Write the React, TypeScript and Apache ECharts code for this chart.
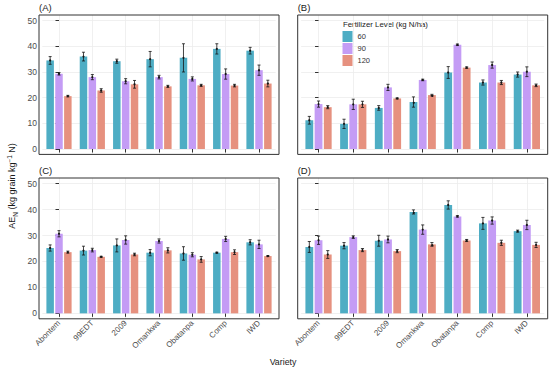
import React, { useEffect, useRef } from 'react';
import * as echarts from 'echarts';

const varieties = ['Abontem', '99EDT', '2009', 'Omankwa', 'Obatanpa', 'Comp', 'IWD'];
const levels = ['60', '90', '120'];
const yTicks = [0, 10, 20, 30, 40, 50];
const panelLabels = ['(A)', '(B)', '(C)', '(D)'];

// Panel A
const A60 = [34.5, 36.0, 34.2, 35.0, 35.5, 39.0, 38.3];
const A60err = [1.5, 1.7, 0.8, 3.0, 5.5, 2.0, 1.3];
const A90 = [29.3, 28.0, 26.4, 28.0, 27.3, 29.2, 30.7];
const A90err = [0.5, 1.0, 1.0, 0.7, 0.8, 2.0, 2.0];
const A120 = [20.6, 22.8, 25.2, 24.4, 24.8, 24.7, 25.5];
const A120err = [0.3, 0.7, 1.5, 0.4, 0.4, 0.5, 1.3];
// Panel B
const B60 = [11.2, 9.8, 16.0, 18.3, 29.8, 25.9, 29.0];
const B60err = [1.5, 1.8, 0.9, 2.0, 2.3, 1.0, 1.0];
const B90 = [17.5, 17.4, 24.0, 26.9, 40.6, 32.7, 30.1];
const B90err = [1.2, 2.0, 1.2, 0.3, 0.3, 1.2, 1.9];
const B120 = [16.3, 17.4, 19.7, 21.0, 31.7, 25.9, 24.8];
const B120err = [0.6, 1.2, 0.2, 0.3, 0.3, 0.8, 0.5];
// Panel C
const C60 = [25.2, 24.2, 26.2, 23.4, 23.1, 23.4, 27.4];
const C60err = [1.2, 1.7, 2.5, 1.2, 2.6, 0.2, 1.0];
const C90 = [30.7, 24.4, 28.3, 27.9, 22.6, 28.7, 26.6];
const C90err = [1.2, 0.7, 1.6, 0.8, 0.8, 1.0, 1.6];
const C120 = [23.6, 21.8, 22.7, 24.3, 20.8, 23.6, 22.1];
const C120err = [0.4, 0.2, 0.5, 1.0, 1.1, 0.9, 0.2];
// Panel D
const D60 = [25.6, 26.1, 28.0, 39.1, 41.8, 34.7, 31.7];
const D60err = [2.1, 1.2, 2.1, 0.8, 1.6, 2.3, 0.4];
const D90 = [28.2, 29.4, 28.5, 32.3, 37.4, 35.8, 34.1];
const D90err = [1.6, 0.5, 1.3, 1.8, 0.3, 1.4, 1.8];
const D120 = [22.7, 24.4, 24.0, 26.6, 28.1, 27.2, 26.4];
const D120err = [1.5, 0.6, 0.6, 0.7, 0.4, 1.0, 1.0];

const panelMeans = [
  [A60, A90, A120],
  [B60, B90, B120],
  [C60, C90, C120],
  [D60, D90, D120],
];
const panelErrs = [
  [A60err, A90err, A120err],
  [B60err, B90err, B120err],
  [C60err, C90err, C120err],
  [D60err, D90err, D120err],
];

const COLORS = ['#4EADC4', '#C49CF5', '#E6917F'];
const FONT = 'Liberation Sans, Arial, Helvetica, sans-serif';
const SPACING = 0.2655;

// panel boxes [x0, x1, y0, y1]
const boxes = [
  [39, 279, 15, 154.4],
  [297.7, 547.7, 15, 154.4],
  [39, 279, 178, 318.8],
  [297.7, 547.7, 178, 318.8],
];

export default function App() {
  const ref = useRef<HTMLDivElement>(null);
  useEffect(() => {
    if (!ref.current) return;
    const chart = echarts.init(ref.current, undefined, { renderer: 'svg' });
    const grids: any[] = [];
    const xAxes: any[] = [];
    const yAxes: any[] = [];
    const series: any[] = [];
    const graphics: any[] = [];

    boxes.forEach((b, p) => {
      const [x0, x1, y0, y1] = b;
      const inset = ((x1 - x0) / 7.2) * 0.1;
      grids.push({ left: x0 + inset, top: y0, width: x1 - x0 - 2 * inset, height: y1 - y0 });
      const bottomRow = p >= 2;
      const leftCol = p % 2 === 0;
      xAxes.push({
        type: 'category',
        gridIndex: p,
        data: varieties,
        position: 'bottom',
        axisLine: { show: false },
        axisTick: { show: true, alignWithLabel: true, length: 3.5, lineStyle: { color: '#333', width: 1 } },
        axisLabel: { show: bottomRow, rotate: 45, fontSize: 8, color: '#4d4d4d', margin: 3, fontFamily: FONT },
        splitLine: { show: false },
      });
      xAxes.push({
        type: 'value',
        gridIndex: p,
        position: 'top',
        min: -0.5,
        max: 6.5,
        axisLine: { show: false },
        axisTick: { show: false, customValues: [0, 1, 2, 3, 4, 5, 6] },
        axisLabel: { show: false, customValues: [0, 1, 2, 3, 4, 5, 6] },
        splitLine: { show: true, lineStyle: { color: '#ececec', width: 0.8 } },
      });
      yAxes.push({
        type: 'value',
        gridIndex: p,
        min: -2.1,
        max: 52.2,
        offset: inset,
        axisLine: { show: false },
        axisTick: { show: true, length: 3.5, lineStyle: { color: '#333', width: 1 }, customValues: yTicks },
        axisLabel: { show: leftCol, fontSize: 8.5, color: '#4d4d4d', margin: 2, customValues: yTicks, fontFamily: FONT },
        splitLine: { show: true, lineStyle: { color: '#ececec', width: 0.8 } },
      });
      levels.forEach((lv, k) => {
        series.push({
          type: 'bar',
          name: lv,
          xAxisIndex: 2 * p,
          yAxisIndex: p,
          data: panelMeans[p][k],
          barWidth: '22.5%',
          barGap: '18%',
          itemStyle: { color: COLORS[k] },
          z: 2,
        });
      });
      const errData: number[][] = [];
      levels.forEach((lv, k) => {
        panelMeans[p][k].forEach((m, i) => errData.push([i, k, m, panelErrs[p][k][i]]));
      });
      series.push({
        type: 'custom',
        xAxisIndex: 2 * p,
        yAxisIndex: p,
        data: errData,
        encode: { x: 0, y: 2 },
        z: 10,
        silent: true,
        renderItem: (params: any, api: any) => {
          const i = api.value(0);
          const k = api.value(1);
          const m = api.value(2);
          const e = api.value(3);
          const band = api.size([1, 0])[0];
          const c = api.coord([i, m]);
          const x = c[0] + (k - 1) * band * SPACING;
          const yt = api.coord([i, m + e])[1];
          const yb = api.coord([i, m - e])[1];
          const cw = band * 0.045;
          const st = { stroke: '#151515', lineWidth: 0.8 };
          return {
            type: 'group',
            children: [
              { type: 'line', shape: { x1: x, y1: yt, x2: x, y2: yb }, style: st },
              { type: 'line', shape: { x1: x - cw, y1: yt, x2: x + cw, y2: yt }, style: st },
              { type: 'line', shape: { x1: x - cw, y1: yb, x2: x + cw, y2: yb }, style: st },
              { type: 'circle', shape: { cx: x, cy: c[1], r: 1.1 }, style: { fill: '#151515' } },
            ],
          };
        },
      });
      graphics.push({
        type: 'rect',
        shape: { x: x0, y: y0, width: x1 - x0, height: y1 - y0 },
        style: { fill: 'none', stroke: '#333', lineWidth: 1 },
        z: 20,
        silent: true,
      });
      graphics.push({
        type: 'text',
        x: x0,
        y: y0 - 8,
        style: { text: panelLabels[p], fontSize: 9.5, fontFamily: FONT, fill: '#1a1a1a', textAlign: 'left', textVerticalAlign: 'middle' },
      });
    });

    graphics.push({
      type: 'text',
      x: 343,
      y: 24.5,
      style: { text: 'Fertilizer Level (kg N/ha)', fontSize: 7.8, fontFamily: FONT, fill: '#1a1a1a', textAlign: 'left', textVerticalAlign: 'middle' },
    });
    graphics.push({
      type: 'text',
      x: 283,
      y: 362,
      style: { text: 'Variety', fontSize: 8.8, fontFamily: FONT, fill: '#1a1a1a', textAlign: 'center', textVerticalAlign: 'middle' },
    });
    graphics.push({
      type: 'text',
      x: 12,
      y: 186,
      rotation: Math.PI / 2,
      style: {
        text: '{a|AE}{s|N}{a| (kg grain kg}{p|−1}{a| N)}',
        textAlign: 'center',
        textVerticalAlign: 'middle',
        fontFamily: FONT,
        fill: '#1a1a1a',
        rich: {
          a: { fontSize: 9, fontFamily: FONT, fill: '#1a1a1a', lineHeight: 13, verticalAlign: 'middle' },
          s: { fontSize: 6.5, fontFamily: FONT, fill: '#1a1a1a', lineHeight: 7, verticalAlign: 'bottom' },
          p: { fontSize: 6.5, fontFamily: FONT, fill: '#1a1a1a', lineHeight: 7, verticalAlign: 'top' },
        },
      },
    });

    chart.setOption({
      animation: false,
      backgroundColor: '#ffffff',
      textStyle: { fontFamily: FONT },
      grid: grids,
      xAxis: xAxes,
      yAxis: yAxes,
      legend: {
        data: levels,
        orient: 'vertical',
        left: 342.5,
        top: 31,
        itemWidth: 10,
        itemHeight: 11,
        itemGap: 1,
        padding: 0,
        icon: 'rect',
        textStyle: { fontSize: 7.5, color: '#333', fontFamily: FONT },
      },
      series,
      graphic: graphics,
    });
    return () => chart.dispose();
  }, []);
  return <div ref={ref} style={{ position: 'absolute', left: 0, top: 0, width: 550, height: 371 }} />;
}
